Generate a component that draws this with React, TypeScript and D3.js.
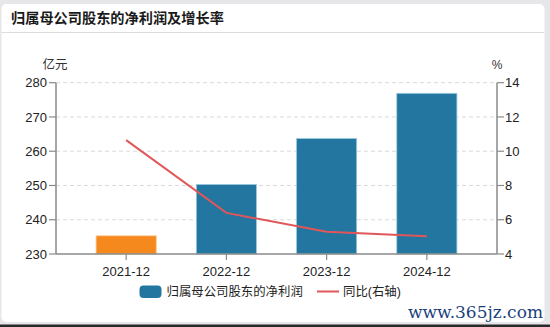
import React from "react";
import * as d3 from "d3";

const categories = ["2021-12", "2022-12", "2023-12", "2024-12"];
const profit = [235.3, 250.3, 263.7, 276.9];
const growth = [10.65, 6.4, 5.3, 5.03];
const leftTicks = [230, 240, 250, 260, 270, 280];
const rightTicks = [4, 6, 8, 10, 12, 14];
const barColors = ["#f5891e", "#2276a0", "#2276a0", "#2276a0"];

const W = 550;
const H = 327;
const FONT = "'Liberation Sans', 'Noto Sans CJK SC', sans-serif";

export default function App() {
  const left = 56;
  const right = 497;
  const top = 82.7;
  const bottom = 254;

  const x = d3.scaleBand<string>().domain(categories).range([left, right]).padding(0.4);
  const yL = d3.scaleLinear().domain([230, 280]).range([bottom, top]);
  const yR = d3.scaleLinear().domain([4, 14]).range([bottom, top]);

  const line = d3
    .line<number>()
    .x((_, i) => (x(categories[i]) as number) + x.bandwidth() / 2)
    .y((d) => yR(d));

  return (
    <svg
      width={W}
      height={H}
      style={{ position: "absolute", left: 0, top: 0 }}
      fontFamily={FONT}
    >
      <rect x={0} y={0} width={W} height={H} fill="#e7e7ea" />
      <rect x={1.5} y={4} width={543} height={318} rx={5} fill="#ffffff" />
      <line x1={1.5} x2={544.5} y1={32.5} y2={32.5} stroke="#dcdcdf" strokeWidth={1.2} />
      <rect x={0} y={324.5} width={W} height={3} fill="#2a2a2a" />
      <text x={11} y={23} fontSize={14.2} fontWeight="bold" fill="#1a1a1a">
        归属母公司股东的净利润及增长率
      </text>

      {/* gridlines */}
      {leftTicks.slice(1).map((t) => (
        <line
          key={t}
          x1={left}
          x2={right}
          y1={yL(t)}
          y2={yL(t)}
          stroke="#d9d9d9"
          strokeDasharray="4,3"
          strokeWidth={1}
        />
      ))}

      {/* bars */}
      {categories.map((c, i) => (
        <rect
          key={c}
          x={x(c)}
          y={yL(profit[i])}
          width={x.bandwidth()}
          height={bottom - yL(profit[i])}
          fill={barColors[i]}
          stroke={i === 0 ? "#fbc78f" : "#9cc9e0"}
          strokeWidth={0.8}
        />
      ))}

      {/* line */}
      <path d={line(growth) || ""} fill="none" stroke="#e15759" strokeWidth={2} />

      {/* left axis */}
      <line x1={left} x2={left} y1={top} y2={bottom} stroke="#8a8a8a" strokeWidth={1.5} />
      {leftTicks.map((t) => (
        <g key={t}>
          <line x1={left - 7} x2={left} y1={yL(t)} y2={yL(t)} stroke="#8a8a8a" strokeWidth={1.2} />
          <text x={left - 9} y={yL(t)} dy="0.35em" textAnchor="end" fontSize={13} fill="#222">
            {t}
          </text>
        </g>
      ))}
      <text x={55} y={69} textAnchor="middle" fontSize={12.5} fill="#333">
        亿元
      </text>

      {/* right axis */}
      <line x1={right} x2={right} y1={top} y2={bottom} stroke="#8a8a8a" strokeWidth={1.5} />
      {rightTicks.map((t) => (
        <g key={t}>
          <line x1={right} x2={right + 7} y1={yR(t)} y2={yR(t)} stroke="#8a8a8a" strokeWidth={1.2} />
          <text x={right + 8} y={yR(t)} dy="0.35em" textAnchor="start" fontSize={13} fill="#222">
            {t}
          </text>
        </g>
      ))}
      <text x={497} y={69} textAnchor="middle" fontSize={12} fill="#333">
        %
      </text>

      {/* x axis */}
      <line x1={left} x2={right} y1={bottom} y2={bottom} stroke="#8a8a8a" strokeWidth={1.5} />
      {categories.map((c) => {
        const cx = (x(c) as number) + x.bandwidth() / 2;
        return (
          <g key={c}>
            <line x1={cx} x2={cx} y1={bottom} y2={bottom + 6} stroke="#8a8a8a" strokeWidth={1.2} />
            <text x={cx} y={271} dy="0.35em" textAnchor="middle" fontSize={13} fill="#222">
              {c}
            </text>
          </g>
        );
      })}

      {/* legend */}
      <rect x={139.5} y={285.5} width={22} height={12.5} rx={4} fill="#2276a0" />
      <text x={166.5} y={292} dy="0.35em" fontSize={12.4} fill="#222">
        归属母公司股东的净利润
      </text>
      <line x1={317} x2={339} y1={291.5} y2={291.5} stroke="#e15759" strokeWidth={2} />
      <text x={343} y={292} dy="0.35em" fontSize={12.4} fill="#222">
        同比(右轴)
      </text>

      {/* watermark */}
      <text
        x={543}
        y={312}
        dy="0.35em"
        textAnchor="end"
        fontSize={17}
        fontFamily="'DejaVu Serif', serif"
        fill="#1c3f7c"
      >
        www.365jz.com
      </text>
    </svg>
  );
}
